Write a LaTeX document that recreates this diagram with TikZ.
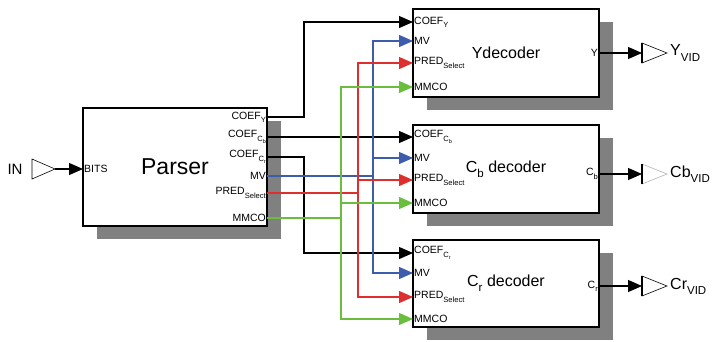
\documentclass[tikz,border=0pt]{standalone}
\usepackage{fontspec}
\setmainfont{Liberation Sans}
\usetikzlibrary{arrows.meta,shadows}

\definecolor{mvblue}{RGB}{62,92,172}
\definecolor{predred}{RGB}{222,46,46}
\definecolor{mmcogreen}{RGB}{106,190,62}
\definecolor{shadowgray}{RGB}{128,128,128}

\newcommand{\lowsub}[1]{\raisebox{-0.6ex}{\scalebox{0.72}{#1}}}

\tikzset{
  block/.style={draw,line width=2.8pt,fill=white,inner sep=0pt,
    drop shadow={shadow xshift=14pt,shadow yshift=-13pt,fill=shadowgray,opacity=1}},
  wire/.style={line width=1.2pt},
  feed/.style={wire,-{Triangle[length=14pt,width=12pt]}},
  portlbl/.style={font=\fontsize{10.5}{11}\selectfont,inner sep=1pt},
  buffer/.style={draw,line width=0.6pt,fill=white},
  biglbl/.style={font=\fontsize{16}{18}\selectfont,inner sep=0pt},
}

\begin{document}
\begin{tikzpicture}[x=1pt,y=-1pt]
    \useasboundingbox (0,0) rectangle (712,341);

    % blocks
    \node[block,minimum width=184pt,minimum height=118pt,
      font=\fontsize{23}{25}\selectfont] (parser) at (175,167) {Parser};
    \node[block,minimum width=186pt,minimum height=88pt,biglbl] (ydec) at (506,53) {Ydecoder};
    \node[block,minimum width=186pt,minimum height=88pt,biglbl] (cbdec) at (506,169) {C\lowsub{b} decoder};
    \node[block,minimum width=186pt,minimum height=87pt,biglbl] (crdec) at (506,283.5) {C\lowsub{r} decoder};

    % parser ports
    \coordinate (p-bits) at (83,169);
    \coordinate (p-coefy) at (267,117);
    \coordinate (p-coefcb) at (267,137);
    \coordinate (p-coefcr) at (267,157);
    \coordinate (p-mv) at (267,176);
    \coordinate (p-pred) at (267,193);
    \coordinate (p-mmco) at (267,218);
    \node[portlbl,anchor=west] (l-bits) at (p-bits) {BITS};
    \node[portlbl,anchor=east] (l-coefy) at (p-coefy) {COEF\lowsub{Y}};
    \node[portlbl,anchor=east] (l-coefcb) at (p-coefcb) {COEF\lowsub{C\lowsub{b}}};
    \node[portlbl,anchor=east] (l-coefcr) at (p-coefcr) {COEF\lowsub{C\lowsub{r}}};
    \node[portlbl,anchor=east] (l-mv) at (p-mv) {MV};
    \node[portlbl,anchor=east] (l-pred) at (p-pred) {PRED\lowsub{Select}};
    \node[portlbl,anchor=east] (l-mmco) at (p-mmco) {MMCO};

    % decoder ports
    \coordinate (y-coef) at (413,22);
    \coordinate (y-mv) at (413,41);
    \coordinate (y-pred) at (413,63);
    \coordinate (y-mmco) at (413,87);
    \coordinate (cb-coef) at (413,137);
    \coordinate (cb-mv) at (413,158);
    \coordinate (cb-pred) at (413,180);
    \coordinate (cb-mmco) at (413,203);
    \coordinate (cr-coef) at (413,253);
    \coordinate (cr-mv) at (413,273);
    \coordinate (cr-pred) at (413,297);
    \coordinate (cr-mmco) at (413,319);
    \node[portlbl,anchor=west] (ly-coef) at (y-coef) {COEF\lowsub{Y}};
    \node[portlbl,anchor=west] (ly-mv) at (y-mv) {MV};
    \node[portlbl,anchor=west] (ly-pred) at (y-pred) {PRED\lowsub{Select}};
    \node[portlbl,anchor=west] (ly-mmco) at (y-mmco) {MMCO};
    \node[portlbl,anchor=west] (lcb-coef) at (cb-coef) {COEF\lowsub{C\lowsub{b}}};
    \node[portlbl,anchor=west] (lcb-mv) at (cb-mv) {MV};
    \node[portlbl,anchor=west] (lcb-pred) at (cb-pred) {PRED\lowsub{Select}};
    \node[portlbl,anchor=west] (lcb-mmco) at (cb-mmco) {MMCO};
    \node[portlbl,anchor=west] (lcr-coef) at (cr-coef) {COEF\lowsub{C\lowsub{r}}};
    \node[portlbl,anchor=west] (lcr-mv) at (cr-mv) {MV};
    \node[portlbl,anchor=west] (lcr-pred) at (cr-pred) {PRED\lowsub{Select}};
    \node[portlbl,anchor=west] (lcr-mmco) at (cr-mmco) {MMCO};

    \coordinate (y-out) at (599,53);
    \coordinate (cb-out) at (599,174);
    \coordinate (cr-out) at (599,286);
    \node[portlbl,anchor=east] (ly-out) at (y-out) {Y};
    \node[portlbl,anchor=east] (lcb-out) at (cb-out) {C\lowsub{b}};
    \node[portlbl,anchor=east] (lcr-out) at (cr-out) {C\lowsub{r}};

    % bus columns
    \coordinate (busC) at (304,0);
    \coordinate (busMM) at (341,0);
    \coordinate (busPR) at (358,0);
    \coordinate (busMV) at (373,0);

    % coefficient wires
    \draw[feed] (p-coefy) -| (busC |- y-coef) -- (y-coef);
    \draw[feed] (p-coefcb) -- (cb-coef);
    \draw[feed] (p-coefcr) -| (busC |- cr-coef) -- (cr-coef);

    % MV bus
    \draw[feed,mvblue] (p-mv) -| (busMV |- y-mv) -- (y-mv);
    \draw[feed,mvblue] (busMV |- cb-mv) -- (cb-mv);
    \draw[feed,mvblue] (busMV |- p-mv) |- (cr-mv);

    % PRED bus
    \draw[feed,predred] (p-pred) -| (busPR |- y-pred) -- (y-pred);
    \draw[feed,predred] (busPR |- cb-pred) -- (cb-pred);
    \draw[feed,predred] (busPR |- p-pred) |- (cr-pred);

    % MMCO bus
    \draw[feed,mmcogreen] (p-mmco) -| (busMM |- y-mmco) -- (y-mmco);
    \draw[feed,mmcogreen] (busMM |- cb-mmco) -- (cb-mmco);
    \draw[feed,mmcogreen] (busMM |- p-mmco) |- (cr-mmco);

    % input buffer
    \node[font=\fontsize{15}{16}\selectfont,inner sep=0pt] (inlbl) at (15,169) {IN};
    \coordinate (inbuf) at (55,169);
    \draw[buffer] (32,159) -- (inbuf) -- (32,179) -- cycle;
    \draw[feed] (inbuf) -- (p-bits);

    % output buffers
    \coordinate (ybuf) at (642,53);
    \coordinate (cbbuf) at (642,174);
    \coordinate (crbuf) at (642,286);
    \draw[feed] (y-out) -- (ybuf);
    \draw[feed] (cb-out) -- (cbbuf);
    \draw[feed] (cr-out) -- (crbuf);
    \draw[buffer] (ybuf) ++(0,-10) -- ++(25,10) -- ++(-25,10) -- cycle;
    \draw[buffer,draw=gray!60] (cbbuf) ++(0,-10) -- ++(25,10) -- ++(-25,10) -- cycle;
    \draw[buffer] (crbuf) ++(0,-10) -- ++(25,10) -- ++(-25,10) -- cycle;
    \draw[line width=1.2pt] (ybuf) ++(0,-10) -- ++(0,20);
    \draw[line width=1.2pt] (cbbuf) ++(0,-10) -- ++(0,20);
    \draw[line width=1.2pt] (crbuf) ++(0,-10) -- ++(0,20);
    \node[biglbl,anchor=west] (yvid) at (670,53) {Y\lowsub{VID}};
    \node[biglbl,anchor=west] (cbvid) at (670,174) {Cb\lowsub{VID}};
    \node[biglbl,anchor=west] (crvid) at (670,286) {Cr\lowsub{VID}};
\end{tikzpicture}
\end{document}
